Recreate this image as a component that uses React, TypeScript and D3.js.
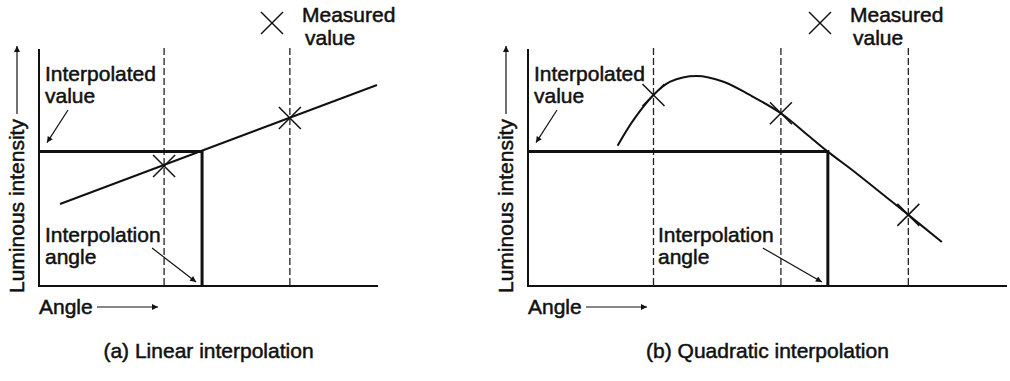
import React from "react";
import * as d3 from "d3";

// Shared value domains (arbitrary units along each axis)
const angleDomain: [number, number] = [0, 100];
const intensityDomain: [number, number] = [0, 100];

// (a) Linear interpolation
const linearMeasured = [
  { angle: 36.9, intensity: 50.6 },
  { angle: 74.0, intensity: 70.9 },
];
const linearFit = [
  { angle: 6.2, intensity: 34.6 },
  { angle: 99.7, intensity: 84.8 },
];
const linearResult = { angle: 48.1, intensity: 56.7 };

// (b) Quadratic interpolation
const quadMeasured = [
  { angle: 26.2, intensity: 80.6 },
  { angle: 52.8, intensity: 72.9 },
  { angle: 79.4, intensity: 30.0 },
];
const quadFit = [
  { angle: 18.7, intensity: 59.2 },
  { angle: 22.0, intensity: 70.0 },
  { angle: 26.2, intensity: 80.6 },
  { angle: 29.7, intensity: 86.2 },
  { angle: 35.2, intensity: 88.6 },
  { angle: 40.8, intensity: 86.2 },
  { angle: 46.3, intensity: 80.6 },
  { angle: 52.8, intensity: 72.9 },
  { angle: 57.5, intensity: 65.2 },
  { angle: 62.6, intensity: 56.7 },
  { angle: 68.6, intensity: 47.5 },
  { angle: 79.4, intensity: 30.0 },
  { angle: 86.4, intensity: 18.6 },
];
const quadResult = { angle: 62.6, intensity: 56.7 };

// Text
const captions = ["(a) Linear interpolation", "(b) Quadratic interpolation"];
const valueLabel = ["Interpolated", "value"];
const angleLabel = ["Interpolation", "angle"];
const legendLabel = ["Measured", "value"];
const yTitle = "Luminous intensity";
const xTitle = "Angle";

const FONT = "'Liberation Sans', Arial, Helvetica, sans-serif";
const FS = 21;
const INK = "#111";
const TEXT_STROKE = 0.5;

type Pt = { angle: number; intensity: number };

function Label({ x, y, text, anchor = "start" }: { x: number; y: number; text: string; anchor?: string }) {
  return (
    <text
      x={x}
      y={y}
      fontFamily={FONT}
      fontSize={FS}
      textAnchor={anchor}
      fill={INK}
      stroke={INK}
      strokeWidth={TEXT_STROKE}
    >
      {text}
    </text>
  );
}

function Cross({ cx, cy, r = 11, w = 1.5 }: { cx: number; cy: number; r?: number; w?: number }) {
  return (
    <g stroke={INK} strokeWidth={w}>
      <line x1={cx - r} y1={cy - r} x2={cx + r} y2={cy + r} />
      <line x1={cx - r} y1={cy + r} x2={cx + r} y2={cy - r} />
    </g>
  );
}

type PanelProps = {
  x0: number;
  x1: number;
  measured: Pt[];
  fit: Pt[];
  result: Pt;
  smooth: boolean;
  caption: string;
  legendX: number;
  angleTextX: number;
  angleArrowDx: number;
};

function Panel({ x0, x1, measured, fit, result, smooth, caption, legendX, angleTextX, angleArrowDx }: PanelProps) {
  const x = d3.scaleLinear().domain(angleDomain).range([x0, x1]);
  const y = d3.scaleLinear().domain(intensityDomain).range([286, 49]);

  const line = d3
    .line<Pt>()
    .x((d) => x(d.angle))
    .y((d) => y(d.intensity))
    .curve(smooth ? d3.curveCatmullRom.alpha(0.5) : d3.curveLinear);

  const rx = x(result.angle);
  const ry = y(result.intensity);
  const base = y(0);
  const top = y(100);

  return (
    <g>
      {/* dashed guides at measured angles */}
      {measured.map((m, i) => (
        <line
          key={`g${i}`}
          x1={x(m.angle)}
          x2={x(m.angle)}
          y1={top - 1}
          y2={base}
          stroke="#222"
          strokeWidth={1.3}
          strokeDasharray="7 3"
        />
      ))}

      {/* axes */}
      <line x1={x0} x2={x0} y1={top} y2={base + 1} stroke={INK} strokeWidth={2} />
      <line x1={x0} x2={x1} y1={base} y2={base} stroke={INK} strokeWidth={2} />

      {/* interpolated value and angle */}
      <path d={`M${x0},${ry}H${rx}V${base}`} fill="none" stroke={INK} strokeWidth={3} />

      {/* fitted curve */}
      <path d={line(fit) ?? ""} fill="none" stroke={INK} strokeWidth={2} />

      {/* measured points */}
      {measured.map((m, i) => (
        <Cross key={`m${i}`} cx={x(m.angle)} cy={y(m.intensity)} />
      ))}

      {/* legend */}
      <Cross cx={legendX} cy={23} />
      <Label x={legendX + 30} y={22} text={legendLabel[0]} />
      <Label x={legendX + 33} y={45} text={legendLabel[1]} />

      {/* interpolated value annotation */}
      <Label x={x0 + 6} y={81} text={valueLabel[0]} />
      <Label x={x0 + 6} y={103} text={valueLabel[1]} />
      <line
        x1={x0 + 29}
        y1={110}
        x2={x0 + 8}
        y2={ry - 9}
        stroke={INK}
        strokeWidth={1.2}
        markerEnd="url(#head)"
      />

      {/* interpolation angle annotation */}
      <Label x={angleTextX} y={242} text={angleLabel[0]} />
      <Label x={angleTextX} y={264} text={angleLabel[1]} />
      <line
        x1={rx - angleArrowDx}
        y1={248}
        x2={rx - 6}
        y2={base - 4}
        stroke={INK}
        strokeWidth={1.2}
        markerEnd="url(#head)"
      />

      {/* axis titles */}
      <g transform={`translate(${x0 - 15},293) rotate(-90)`}>
        <text fontFamily={FONT} fontSize={FS} fill={INK} stroke={INK} strokeWidth={TEXT_STROKE}>
          {yTitle}
        </text>
      </g>
      <line
        x1={x0 - 22}
        x2={x0 - 22}
        y1={114}
        y2={46}
        stroke={INK}
        strokeWidth={1.2}
        markerEnd="url(#head)"
      />
      <Label x={x0} y={314} text={xTitle} />
      <line
        x1={x0 + 58}
        x2={x0 + 119}
        y1={307}
        y2={307}
        stroke={INK}
        strokeWidth={1.2}
        markerEnd="url(#head)"
      />

      {/* caption */}
      <Label x={(x0 + x1) / 2} y={358} text={caption} anchor="middle" />
    </g>
  );
}

export default function App() {
  return (
    <svg
      width={1010}
      height={381}
      style={{ position: "absolute", left: 0, top: 0, background: "#fff" }}
    >
      <defs>
        <marker
          id="head"
          viewBox="0 0 10 10"
          refX={10}
          refY={5}
          markerWidth={9}
          markerHeight={6}
          markerUnits="userSpaceOnUse"
          orient="auto"
        >
          <path d="M0,0L10,5L0,10z" fill={INK} />
        </marker>
      </defs>
      <rect width={1010} height={381} fill="#fff" />
      <Panel
        x0={39}
        x1={378}
        measured={linearMeasured}
        fit={linearFit}
        result={linearResult}
        smooth={false}
        caption={captions[0]}
        legendX={272}
        angleTextX={45}
        angleArrowDx={50}
      />
      <Panel
        x0={528}
        x1={1007}
        measured={quadMeasured}
        fit={quadFit}
        result={quadResult}
        smooth={true}
        caption={captions[1]}
        legendX={820}
        angleTextX={658}
        angleArrowDx={65}
      />
    </svg>
  );
}
